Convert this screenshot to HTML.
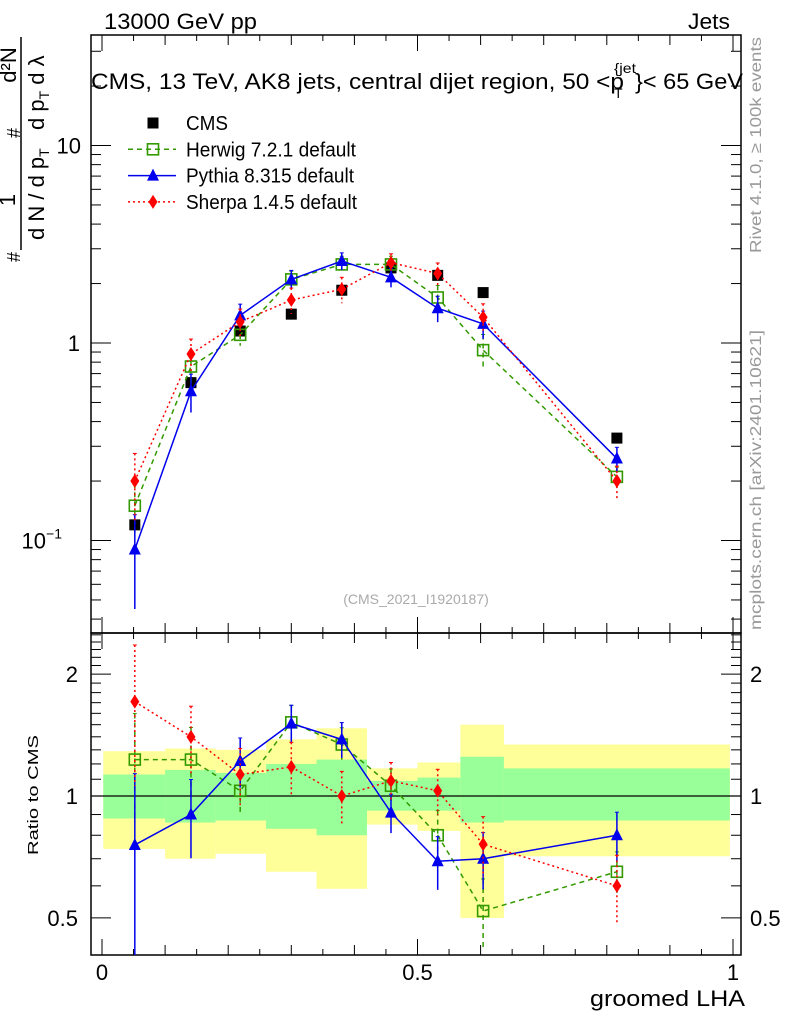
<!DOCTYPE html>
<html><head><meta charset="utf-8"><style>
html,body{margin:0;padding:0;background:#fff}
svg{display:block;font-family:"Liberation Sans",sans-serif}
</style></head><body>
<svg id="chart" width="786" height="1024" viewBox="0 0 786 1024" xmlns="http://www.w3.org/2000/svg">
<text x="104" y="29" font-size="22" textLength="153" lengthAdjust="spacingAndGlyphs">13000 GeV pp</text>
<text x="688" y="29" font-size="22" textLength="42" lengthAdjust="spacingAndGlyphs">Jets</text>
<g>
<text x="91" y="89" font-size="22" textLength="533" lengthAdjust="spacingAndGlyphs">CMS, 13 TeV, AK8 jets, central dijet region, 50 &lt;p</text>
<text x="614" y="98" font-size="14">T</text>
<text x="614" y="73" font-size="14" textLength="22" lengthAdjust="spacingAndGlyphs">{jet</text>
<text x="635" y="89" font-size="22" textLength="108" lengthAdjust="spacingAndGlyphs">}&lt; 65 GeV</text>
</g>
<text transform="translate(761,145) rotate(-90)" font-size="16" fill="#999" text-anchor="middle" textLength="216" lengthAdjust="spacingAndGlyphs">Rivet 4.1.0, ≥ 100k events</text>
<text transform="translate(761,480) rotate(-90)" font-size="16" fill="#999" text-anchor="middle" textLength="300" lengthAdjust="spacingAndGlyphs">mcplots.cern.ch [arXiv:2401.10621]</text>
<text x="416" y="604" font-size="14" fill="#aaa" text-anchor="middle">(CMS_2021_I1920187)</text>
<g font-size="22">
<text transform="translate(20,257) rotate(-90)" text-anchor="middle" font-size="18">#</text>
<text transform="translate(15,200) rotate(-90)" text-anchor="middle">1</text>
<line x1="21" y1="37" x2="21" y2="250" stroke="#000" stroke-width="1.5"/>
<text transform="translate(44,240) rotate(-90)">d N / d p<tspan font-size="14" dy="5">T</tspan></text>
<text transform="translate(20,133) rotate(-90)" text-anchor="middle" font-size="18">#</text>
<text transform="translate(16,65) rotate(-90)" text-anchor="middle">d²N</text>
<text transform="translate(44,130) rotate(-90)">d p<tspan font-size="14" dy="5">T</tspan><tspan dy="-5"> d λ</tspan></text>
</g>
<text transform="translate(38,795) rotate(-90)" font-size="15" text-anchor="middle" textLength="120" lengthAdjust="spacingAndGlyphs">Ratio to CMS</text>
<text x="590" y="1006" font-size="22" textLength="155" lengthAdjust="spacingAndGlyphs">groomed LHA</text>
<g id="bands"></g>
<g id="axes"></g>
<g id="series"></g>
<g id="legend"></g>
</svg>
<script>
const xCenters=[0.052,0.141,0.219,0.300,0.380,0.458,0.532,0.604,0.816];
const binEdges=[0.002,0.1,0.18,0.26,0.34,0.42,0.5,0.568,0.637,0.995];
const cmsVals=[0.12,0.63,1.15,1.4,1.85,2.4,2.2,1.8,0.33];
const herwigVals=[0.15,0.76,1.1,2.1,2.5,2.5,1.7,0.92,0.21];
const pythiaVals=[0.09,0.57,1.38,2.1,2.6,2.15,1.5,1.25,0.26];
const sherpaVals=[0.2,0.88,1.28,1.65,1.87,2.55,2.25,1.35,0.2];
const herwigRatio=[1.23,1.23,1.03,1.52,1.34,1.06,0.80,0.52,0.65];
const pythiaRatio=[0.757,0.90,1.22,1.51,1.38,0.91,0.69,0.70,0.80];
const sherpaRatio=[1.71,1.40,1.13,1.18,1.0,1.09,1.03,0.76,0.60];
const herwigErr=[0.3,0.2,0.12,0.1,0.1,0.1,0.15,0.2,0.12];
const pythiaErr=[0.5,0.22,0.14,0.11,0.1,0.11,0.15,0.16,0.14];
const sherpaErr=[0.38,0.19,0.16,0.15,0.15,0.11,0.13,0.17,0.19];
const band2Hi=[1.29,1.31,1.30,1.38,1.47,1.17,1.21,1.5,1.34];
const band2Lo=[0.74,0.70,0.72,0.65,0.59,0.85,0.82,0.5,0.71];
const band1Hi=[1.13,1.16,1.14,1.20,1.23,1.09,1.11,1.25,1.17];
const band1Lo=[0.88,0.86,0.87,0.83,0.80,0.92,0.92,0.86,0.87];

const NS="http://www.w3.org/2000/svg";
const X0=91,X1=741,M0=35,M1=633,R0=633,R1=955;
const xp=v=>102+631*v;
const yp=v=>343-197.5*Math.log10(v);
const yr=v=>796-405*Math.log10(v);
function mk(tag,attrs,parent){const e=document.createElementNS(NS,tag);for(const k in attrs)e.setAttribute(k,attrs[k]);parent.appendChild(e);return e;}
const bands=document.getElementById('bands'),axes=document.getElementById('axes'),ser=document.getElementById('series'),leg=document.getElementById('legend');

for(let i=0;i<band2Hi.length;i++){
  const x=xp(binEdges[i]),w=xp(binEdges[i+1])-x;
  const b2=mk('rect',{x:x,y:yr(band2Hi[i]),width:w,height:yr(band2Lo[i])-yr(band2Hi[i]),fill:'#ffff99'},bands);
  
  
  const b1=mk('rect',{x:x,y:yr(band1Hi[i]),width:w,height:yr(band1Lo[i])-yr(band1Hi[i]),fill:'#99ff99'},bands);
  
  
}
mk('line',{x1:X0,x2:X1,y1:yr(1),y2:yr(1),stroke:'#000','stroke-width':1.2},axes);
mk('rect',{x:X0,y:M0,width:X1-X0,height:M1-M0,fill:'none',stroke:'#000','stroke-width':1.5},axes);
mk('rect',{x:X0,y:R0,width:X1-X0,height:R1-R0,fill:'none',stroke:'#000','stroke-width':1.5},axes);
for(let k=0;k<=20;k++){const v=k*0.05,x=xp(v),L=(k%10==0)?16:(k%2==0?10:6);
  for(const [y0,d] of [[M0,1],[M1,-1],[R0,1],[R1,-1]]) mk('line',{x1:x,x2:x,y1:y0,y2:y0+d*L,stroke:'#000'},axes);}
[[0,'0'],[0.5,'0.5'],[1,'1']].forEach(([v,t])=>{const e=mk('text',{x:xp(v),y:980,'font-size':22,'text-anchor':'middle'},axes);e.textContent=t;});
for(let d=-2;d<=1;d++)for(let m=1;m<=9;m++){const v=m*Math.pow(10,d),y=yp(v);if(y<M0||y>M1)continue;const L=m==1?20:10;
  mk('line',{x1:X0,x2:X0+L,y1:y,y2:y,stroke:'#000'},axes);mk('line',{x1:X1,x2:X1-L,y1:y,y2:y,stroke:'#000'},axes);}
[[10,'10',81],[1,'1',80]].forEach(([v,t,x])=>{const e=mk('text',{x:x,y:yp(v)+8,'font-size':22,'text-anchor':'end'},axes);e.textContent=t;});
{const e=mk('text',{x:62,y:yp(0.1)+8,'font-size':22,'text-anchor':'end'},axes);e.innerHTML='10<tspan font-size="14" dy="-10">−1</tspan>';}
for(let k=4;k<=25;k++){const v=k/10,y=yr(v);if(y<R0||y>R1)continue;const L=(k==5||k==10||k==20)?20:10;
  mk('line',{x1:X0,x2:X0+L,y1:y,y2:y,stroke:'#000'},axes);mk('line',{x1:X1,x2:X1-L,y1:y,y2:y,stroke:'#000'},axes);}
[[2,'2'],[1,'1'],[0.5,'0.5']].forEach(([v,t])=>{
  const a=mk('text',{x:78,y:yr(v)+8,'font-size':22,'text-anchor':'end'},axes);a.textContent=t;
  const b=mk('text',{x:750,y:yr(v)+8,'font-size':22},axes);b.textContent=t;});

function marker(kind,x,y,g){
  if(kind=='cms')return mk('rect',{x:x-5.5,y:y-5.5,width:11,height:11,fill:'#000'},g);
  if(kind=='herwig')return mk('rect',{x:x-5.5,y:y-5.5,width:11,height:11,fill:'none',stroke:'#339900','stroke-width':1.6},g);
  if(kind=='pythia')return mk('polygon',{points:`${x},${y-7} ${x-6},${y+5} ${x+6},${y+5}`,fill:'#0000ee'},g);
  return mk('polygon',{points:`${x},${y-7} ${x-4.5},${y} ${x},${y+7} ${x+4.5},${y}`,fill:'#ff0000'},g);
}
const styles={herwig:{c:'#339900',d:'5,4',w:1.5},pythia:{c:'#0000ee',d:'',w:1.5},sherpa:{c:'#ff0000',d:'2,3',w:1.5}};
function drawSeries(kind,vals,errs,ys,lo,hi,name){
  const g=mk('g',{},ser);
  const s=styles[kind];
  if(errs){vals.forEach((v,i)=>{const x=xp(xCenters[i]);let y1=ys(v*(1+errs[i])),y2=ys(Math.max(v*(1-errs[i]),1e-3));y1=Math.max(y1,lo);y2=Math.min(y2,hi);
    mk('line',{x1:x,x2:x,y1:y1,y2:y2,stroke:s.c,'stroke-width':1.5,'stroke-dasharray':s.d},g);
    mk('line',{x1:x-2,x2:x+2,y1:y1,y2:y1,stroke:s.c},g);});
    const pts=vals.map((v,i)=>xp(xCenters[i])+','+ys(v)).join(' ');
    mk('polyline',{points:pts,fill:'none',stroke:s.c,'stroke-width':s.w,'stroke-dasharray':s.d},g);}
  vals.forEach((v,i)=>{const m=marker(kind,xp(xCenters[i]),ys(v),g);});
}
drawSeries('cms',cmsVals,null,yp,M0,M1,'cms-data');
drawSeries('herwig',herwigVals,herwigErr,yp,M0,M1,'herwig-series');
drawSeries('pythia',pythiaVals,pythiaErr,yp,M0,M1,'pythia-series');
drawSeries('sherpa',sherpaVals,sherpaErr,yp,M0,M1,'sherpa-series');
drawSeries('herwig',herwigRatio,herwigErr,yr,R0,R1,'herwig-ratio');
drawSeries('pythia',pythiaRatio,pythiaErr,yr,R0,R1,'pythia-ratio');
drawSeries('sherpa',sherpaRatio,sherpaErr,yr,R0,R1,'sherpa-ratio');

const legNames=['CMS','Herwig 7.2.1 default','Pythia 8.315 default','Sherpa 1.4.5 default'];
const legLens=[42,170,168,171];
const legKinds=['cms','herwig','pythia','sherpa'];
legKinds.forEach((k,i)=>{const y=123+26.3*i;
  const g=mk('g',{},leg);
  if(k!='cms'){const s=styles[k];mk('line',{x1:128,x2:176,y1:y,y2:y,stroke:s.c,'stroke-width':1.5,'stroke-dasharray':s.d},g);}
  marker(k,153,y,g);
  const t=mk('text',{x:186,y:y+7,'font-size':20,textLength:legLens[i],lengthAdjust:'spacingAndGlyphs'},g);t.textContent=legNames[i];});
</script>
</body></html>
